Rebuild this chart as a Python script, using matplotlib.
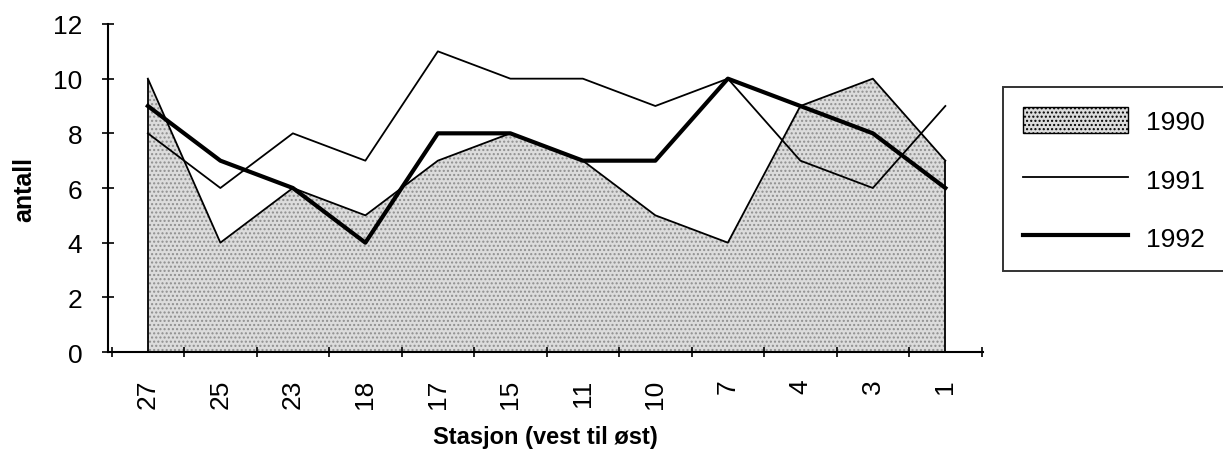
import matplotlib
matplotlib.use("Agg")
import matplotlib.pyplot as plt
from matplotlib.patches import Patch
from matplotlib.lines import Line2D
import numpy as np

stations = ["27", "25", "23", "18", "17", "15", "11", "10", "7", "4", "3", "1"]
y1990 = [10, 4, 6, 5, 7, 8, 7, 5, 4, 9, 10, 7]
y1991 = [8, 6, 8, 7, 11, 10, 10, 9, 10, 7, 6, 9]
y1992 = [9, 7, 6, 4, 8, 8, 7, 7, 10, 9, 8, 6]
yticks = [0, 2, 4, 6, 8, 10, 12]

plt.rcParams['font.family'] = ['Liberation Sans', 'DejaVu Sans']


def main():
    x = np.arange(len(stations))
    fig = plt.figure(figsize=(12.23, 4.52), dpi=100)
    ax = fig.add_axes([0.0883, 0.219, 0.7155, 0.7257])

    # 1990 as stippled area
    ax.fill_between(x, 0, y1990, facecolor="#dcdcdc", edgecolor="none", zorder=1)
    ax.fill_between(x, 0, y1990, facecolor="none", edgecolor="#8f8f8f",
                    hatch="....", linewidth=0, zorder=1)
    ax.plot(x, y1990, color="black", lw=1.3, zorder=2)
    ax.vlines([x[0], x[-1]], 0, [y1990[0], y1990[-1]], color="black", lw=1.3, zorder=2)

    ax.plot(x, y1991, color="black", lw=1.3, zorder=3)
    ax.plot(x, y1992, color="black", lw=3.0, zorder=4)

    ax.set_xlim(-0.55, 11.52)
    ax.set_ylim(0, 12)
    ax.set_yticks(yticks)
    ax.set_xticks(x)
    ax.set_xticklabels(stations, rotation=90)
    ax.set_xticks(np.arange(len(stations) + 1) - 0.5, minor=True)
    ax.tick_params(axis="x", which="major", length=0, labelsize=19, pad=19)
    ax.tick_params(axis="x", which="minor", direction="inout", length=7, width=1.2)
    ax.tick_params(axis="y", direction="inout", length=9, width=1.2, labelsize=19, pad=14)

    for s in ["top", "right"]:
        ax.spines[s].set_visible(False)
    ax.spines["left"].set_linewidth(1.5)
    ax.spines["bottom"].set_linewidth(1.5)

    ax.set_ylabel("antall", fontsize=18, fontweight="bold", labelpad=12)
    ax.set_xlabel("Stasjon (vest til øst)", fontsize=17, fontweight="bold", labelpad=12)

    handles = [
        Patch(facecolor="#dcdcdc", edgecolor="black", hatch="....", lw=1),
        Line2D([], [], color="black", lw=1.3),
        Line2D([], [], color="black", lw=3.0),
    ]
    leg = fig.legend(handles, ["1990", "1991", "1992"], loc="upper left",
                     bbox_to_anchor=(0.820, 0.805, 0.19, 0.0), mode="expand",
                     borderaxespad=0, fancybox=False, edgecolor="black",
                     fontsize=19, handlelength=4.0, handleheight=1.15,
                     labelspacing=1.2, borderpad=0.75, handletextpad=0.68)
    leg.get_frame().set_linewidth(1.4)

    fig.savefig("out.png", dpi=100)


if __name__ == "__main__":
    main()
